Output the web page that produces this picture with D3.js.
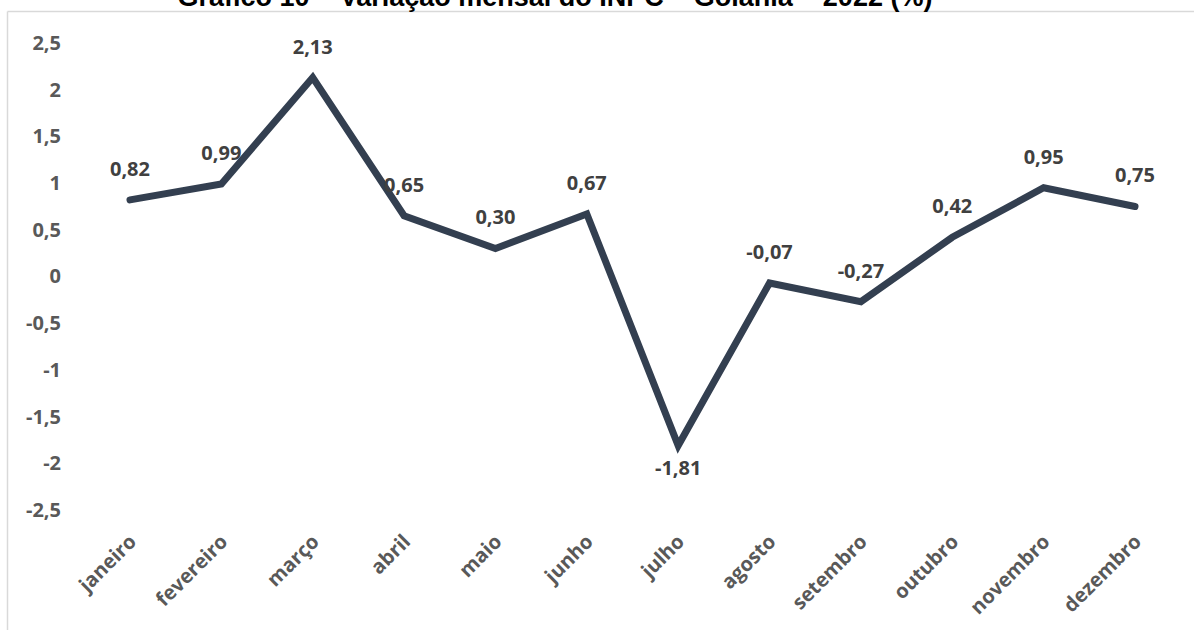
<!DOCTYPE html>
<html>
<head>
<meta charset="utf-8">
<script src="https://cdn.jsdelivr.net/npm/d3@7"></script>
<style>
  body { margin: 0; background: #fff; }
  svg { display: block; }
</style>
</head>
<body>
<svg id="chart" width="1194" height="630"></svg>
<script>
// INPC Goiânia 2022 - monthly variation (%)
const months = ['janeiro', 'fevereiro', 'março', 'abril', 'maio', 'junho',
  'julho', 'agosto', 'setembro', 'outubro', 'novembro', 'dezembro'];
const values = [0.82, 0.99, 2.13, 0.65, 0.30, 0.67, -1.81, -0.07, -0.27, 0.42, 0.95, 0.75];
const yTicks = [2.5, 2, 1.5, 1, 0.5, 0, -0.5, -1, -1.5, -2, -2.5];
const title = 'Gráfico 10 – Variação mensal do INPC – Goiânia – 2022 (%)';

const svg = d3.select('#chart');
const font = "'Open Sans', sans-serif";

// comma decimals, plain hyphen for negatives
const locale = d3.formatLocale({
  decimal: ',', thousands: '.', grouping: [3], currency: ['R$', ''], minus: '-',
});
const tickFmt = locale.format('~g');
const labelFmt = locale.format('.2f');

// frame of the chart box (only top and left show)
svg.append('line')
  .attr('x1', 7.5).attr('x2', 1194).attr('y1', 11.5).attr('y2', 11.5)
  .attr('stroke', '#d9d9d9').attr('stroke-width', 1.5);
svg.append('line')
  .attr('x1', 7.5).attr('x2', 7.5).attr('y1', 11.5).attr('y2', 630)
  .attr('stroke', '#d9d9d9').attr('stroke-width', 1.5);

// title (cut off at the top in the source)
svg.append('text')
  .attr('x', 555).attr('y', 6)
  .attr('text-anchor', 'middle')
  .style('font-family', "'Liberation Sans', Arial, sans-serif")
  .style('font-weight', 'bold')
  .style('font-size', '27px')
  .attr('fill', '#000')
  .text(title);

const x = d3.scalePoint().domain(months).range([130, 1135]);
const y = d3.scaleLinear().domain([-2.5, 2.5]).range([510, 43]);

// y axis labels, no line
const yAxis = svg.append('g')
  .attr('transform', 'translate(61,0)')
  .call(d3.axisLeft(y).tickValues(yTicks).tickSize(0).tickPadding(0).tickFormat(tickFmt));
yAxis.select('.domain').remove();
yAxis.selectAll('text')
  .style('font-family', font)
  .style('font-weight', 'bold')
  .style('font-size', '20px')
  .attr('fill', '#595959');

// x axis labels rotated
const xAxis = svg.append('g')
  .attr('transform', 'translate(0,538)')
  .call(d3.axisBottom(x).tickSize(0).tickPadding(0));
xAxis.select('.domain').remove();
xAxis.selectAll('text')
  .attr('text-anchor', 'end')
  .attr('dy', '0.35em')
  .attr('y', 0)
  .attr('transform', 'translate(2,0) rotate(-45)')
  .style('font-family', font)
  .style('font-weight', 'bold')
  .style('font-size', '20px')
  .attr('fill', '#595959');

// line
const line = d3.line()
  .x((d, i) => x(months[i]))
  .y((d) => y(d));

svg.append('path')
  .datum(values)
  .attr('d', line)
  .attr('fill', 'none')
  .attr('stroke', '#333f50')
  .attr('stroke-width', 7)
  .attr('stroke-linejoin', 'miter')
  .attr('stroke-linecap', 'round');

// data labels
svg.selectAll('.lbl')
  .data(values)
  .enter()
  .append('text')
  .attr('class', 'lbl')
  .attr('x', (d, i) => x(months[i]))
  .attr('y', (d) => (d < -1 ? y(d) + 22 : y(d) - 31))
  .attr('dy', '0.35em')
  .attr('text-anchor', 'middle')
  .style('font-family', font)
  .style('font-weight', 'bold')
  .style('font-size', '20px')
  .attr('fill', '#404040')
  .text((d) => labelFmt(d));
</script>
</body>
</html>
